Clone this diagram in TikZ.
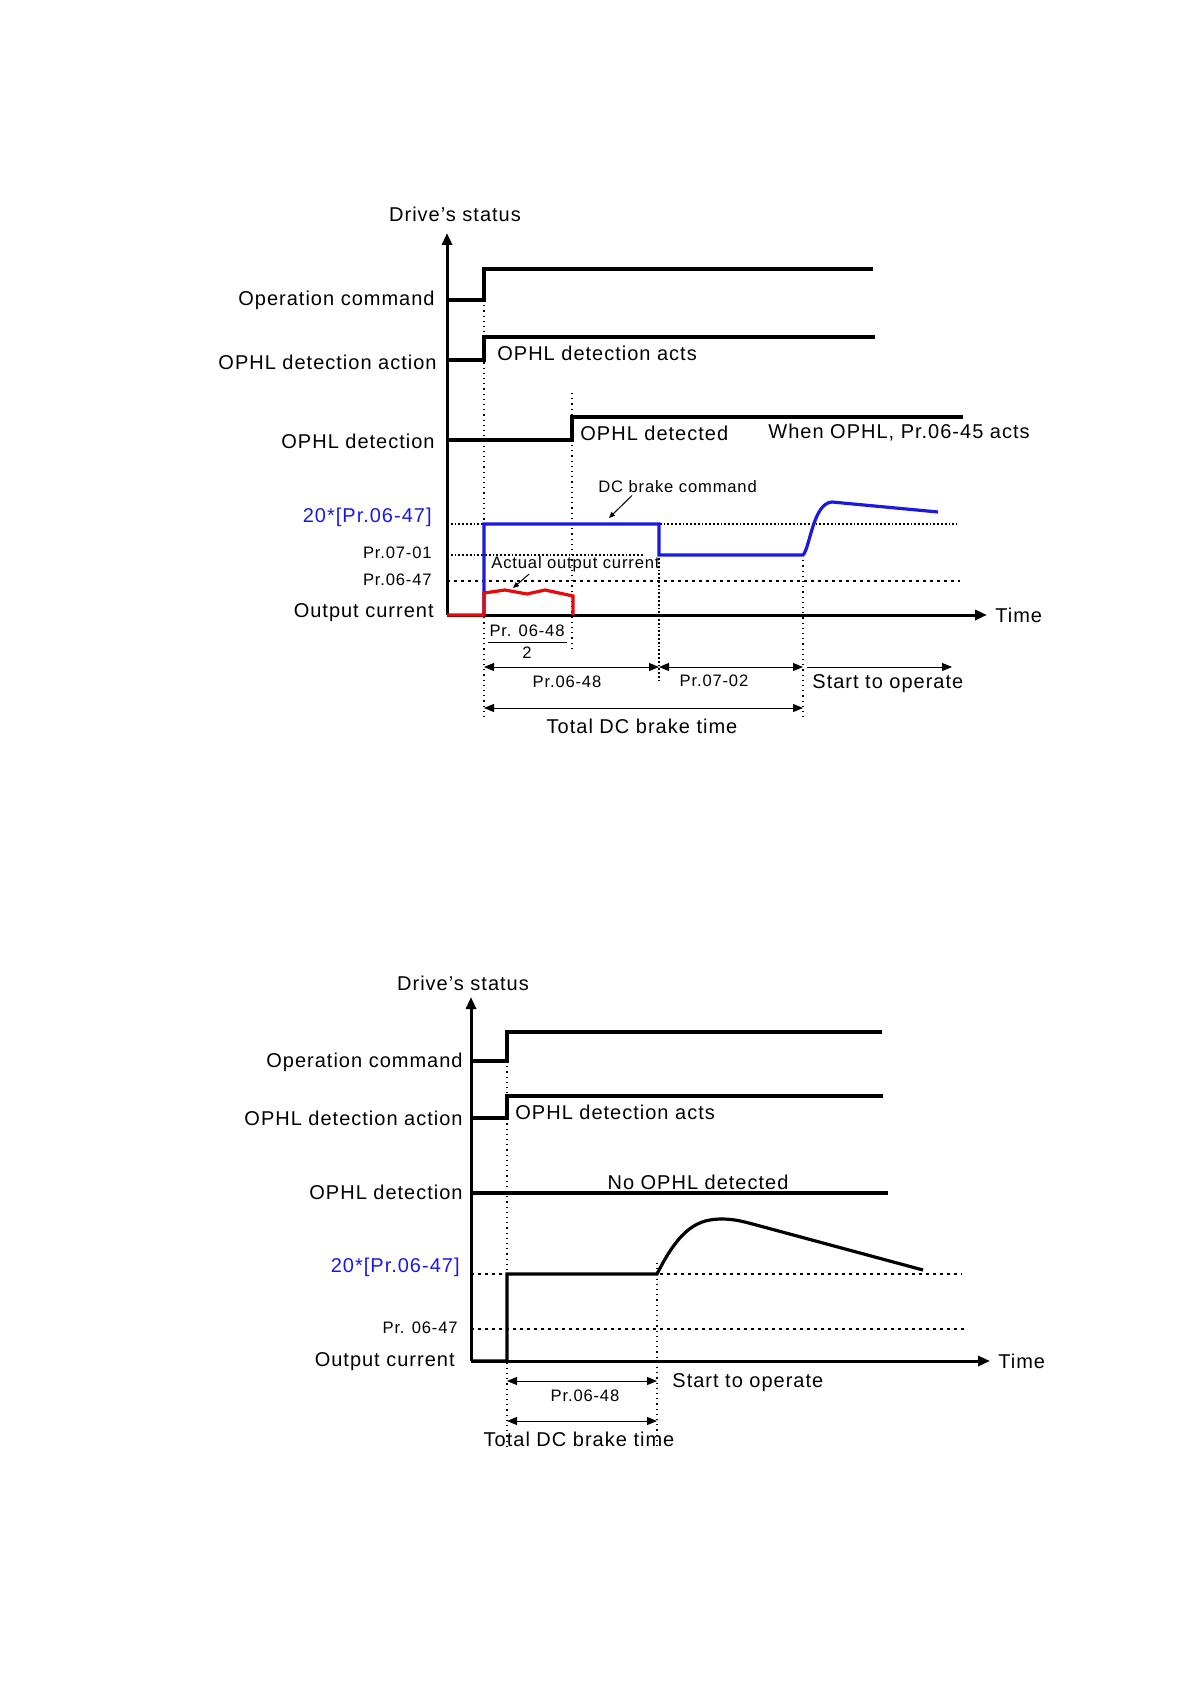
\documentclass[tikz,border=0pt]{standalone}
\usepackage{fontspec}
\setmainfont{Liberation Sans}[LetterSpace=5]
\usetikzlibrary{positioning,arrows.meta}
\definecolor{cmdblue}{RGB}{25,25,225}
\definecolor{curred}{RGB}{230,10,10}

\begin{document}
\begin{tikzpicture}[x=0.5pt, y=-0.5pt,
  lbl/.style={font=\fontsize{10}{12}\selectfont, inner sep=1pt},
  sml/.style={font=\fontsize{8.3}{10}\selectfont, inner sep=1pt},
  sig/.style={line width=1.6pt},
  axis/.style={line width=1.5pt, -{Triangle[length=6pt,width=5pt]}},
  dim/.style={line width=0.5pt, {Triangle[length=5pt,width=4pt]}-{Triangle[length=5pt,width=4pt]}},
  fwd/.style={line width=0.5pt, -{Triangle[length=5pt,width=4pt]}},
  ptr/.style={line width=0.5pt, -{Triangle[length=3pt,width=2.5pt]}},
  vdot/.style={line width=0.6pt, dotted},
  tdot/.style={line width=0.9pt, densely dotted},
  hdot/.style={line width=0.6pt, dash pattern=on 1.5pt off 2pt}]
\useasboundingbox (0,0) rectangle (1191,1684);

% upper chart: OPHL detected
\coordinate (o1) at (447,615);
\coordinate (top1) at (447,233);
\coordinate (end1) at (987,615);
\node[lbl] (ds1) at (455,214) {Drive’s status};
\node[lbl, anchor=east] (op1) at (437,300) {Operation command};
\node[lbl, anchor=east] (act1) at (439,362) {OPHL detection action};
\node[lbl, anchor=east] (det1) at (437,441) {OPHL detection};
\node[lbl, anchor=east, text=cmdblue] (lv1) at (434,517) {20*[Pr.06-47]};
\node[sml, anchor=east] (p0701) at (434,553) {Pr.07-01};
\node[sml, anchor=east] (p0647a) at (434,580) {Pr.06-47};
\node[lbl, anchor=east] (out1) at (436,613) {Output current};
\node[lbl, right=3pt of end1] (tm1) {Time};

\draw[vdot] (484,300) -- (484,719);
\draw[vdot] (572,393) -- (572,652);
\draw[tdot] (659,524) -- (659,680);
\draw[vdot] (803,555) -- (803,718);
\draw[tdot] (447,524) -- (957,524);
\draw[tdot] (447,555) -- (643,555);
\draw[hdot] (447,581) -- (960,581);

\draw[sig] (447,300) -| (484,269) -- (873,269);
\draw[sig] (447,360) -| (484,337) -- (875,337);
\draw[sig] (447,440) -| (572,417) -- (963,417);
\node[lbl, anchor=west] (acts1) at (495,353) {OPHL detection acts};
\node[lbl, anchor=west] (dtd1) at (578,433) {OPHL detected};
\node[lbl, anchor=west] (when1) at (766,433) {When OPHL, Pr.06-45 acts};

\draw[axis] (o1) -- (top1);
\draw[axis] (o1) -- (end1);
\draw[sig, cmdblue] (484,615) -- (484,524) -- (659,524) -- (659,555) -- (803,555)
  .. controls (810,548) and (813,503) .. (832,502) -- (938,512);
\draw[sig, curred] (447,615) -- (484,615) -- (484,593) -- (505,590) -- (527,594)
  -- (545,590) -- (573,596) -- (573,615);

\node[sml, anchor=west] (dcb) at (596,487) {DC brake command};
\coordinate (dcbp) at (609,518);
\draw[ptr] ([xshift=18pt]dcb.south west) -- (dcbp);
\node[sml, anchor=west] (aoc) at (489,564) {Actual output current};
\coordinate (aocp) at (513,588);
\draw[ptr] ([xshift=20pt]aoc.south west) -- (aocp);

\node[sml] (fnum) at (527,631) {Pr. 06-48};
\draw[line width=0.5pt] (488,642) -- (567,642);
\node[sml] (fden) at (527,653) {2};

\coordinate (a1) at (484,667);
\coordinate (a2) at (659,667);
\coordinate (a3) at (803,667);
\coordinate (a4) at (807,667);
\coordinate (a5) at (952,667);
\coordinate (b1) at (484,708);
\coordinate (b2) at (803,708);
\draw[dim] (a1) -- (a2);
\draw[dim] (a2) -- (a3);
\draw[fwd] (a4) -- (a5);
\draw[dim] (b1) -- (b2);
\node[sml] (d1) at (567,682) {Pr.06-48};
\node[sml] (d2) at (714,681) {Pr.07-02};
\node[lbl, anchor=west] (st1) at (810,684) {Start to operate};
\node[lbl] (tot1) at (642,726) {Total DC brake time};

% lower chart: no OPHL detected
\coordinate (o2) at (471,1361);
\coordinate (top2) at (471,997);
\coordinate (end2) at (990,1361);
\node[lbl] (ds2) at (463,983) {Drive’s status};
\node[lbl, anchor=east] (op2) at (465,1062) {Operation command};
\node[lbl, anchor=east] (act2) at (465,1118) {OPHL detection action};
\node[lbl, anchor=east] (det2) at (465,1192) {OPHL detection};
\node[lbl, anchor=east, text=cmdblue] (lv2) at (462,1267) {20*[Pr.06-47]};
\node[sml, anchor=east] (p0647b) at (460,1328) {Pr. 06-47};
\node[lbl, anchor=east] (out2) at (457,1362) {Output current};
\node[lbl, right=3pt of end2] (tm2) {Time};

\draw[vdot] (507,1061) -- (507,1447);
\draw[vdot] (657,1263) -- (657,1447);
\draw[hdot] (471,1274) -- (962,1274);
\draw[hdot] (471,1329) -- (965,1329);

\draw[sig] (471,1061) -| (507,1032) -- (882,1032);
\draw[sig] (471,1118) -| (507,1096) -- (883,1096);
\draw[sig] (471,1193) -- (888,1193);
\node[lbl, anchor=west] (acts2) at (513,1112) {OPHL detection acts};
\node[lbl] (nod2) at (698,1182) {No OPHL detected};

\draw[axis] (o2) -- (top2);
\draw[axis] (o2) -- (end2);
\draw[sig] (471,1361) -- (507,1361) -- (507,1274) -- (657,1274)
  .. controls (680,1228) and (698,1219) .. (722,1219)
  .. controls (735,1219) and (745,1222) .. (760,1226) -- (923,1270);

\coordinate (c1) at (507,1381);
\coordinate (c2) at (657,1381);
\coordinate (e1) at (507,1421);
\coordinate (e2) at (657,1421);
\draw[dim] (c1) -- (c2);
\draw[dim] (e1) -- (e2);
\node[sml] (d3) at (585,1396) {Pr.06-48};
\node[lbl, anchor=west] (st2) at (670,1383) {Start to operate};
\node[lbl] (tot2) at (579,1439) {Total DC brake time};
\end{tikzpicture}
\end{document}
